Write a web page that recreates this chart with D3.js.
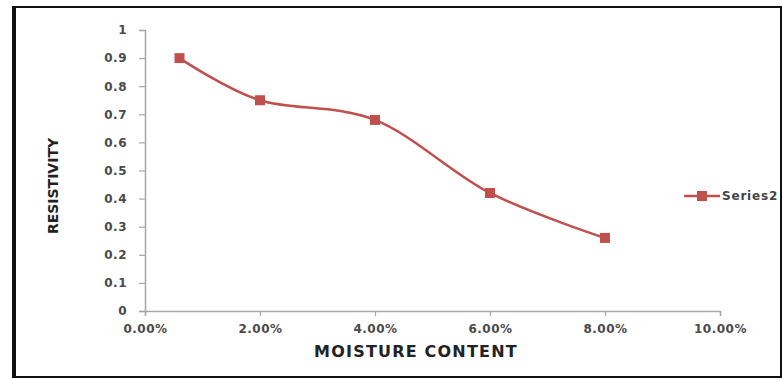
<!DOCTYPE html>
<html>
<head>
<meta charset="utf-8">
<script src="https://cdn.jsdelivr.net/npm/d3@7"></script>
<style>
  body { margin: 0; background: #fff; }
  svg { display: block; }
</style>
</head>
<body>
<svg width="783" height="380"></svg>
<script>
// datos
const moisture = [0.006, 0.02, 0.04, 0.06, 0.08];
const resistivity = [0.9, 0.75, 0.68, 0.42, 0.26];
const xTicks = [0, 0.02, 0.04, 0.06, 0.08, 0.10];
const yTicks = [0, 0.1, 0.2, 0.3, 0.4, 0.5, 0.6, 0.7, 0.8, 0.9, 1];
const seriesName = 'Series2';

const color = '#c0504d';
const axisColor = '#a6a6a6';
const tickFont = 'DejaVu Sans, sans-serif';

const svg = d3.select('svg');

// marco exterior
svg.append('rect')
    .attr('x', 13).attr('y', 7)
    .attr('width', 768).attr('height', 370)
    .attr('fill', '#fff')
    .attr('stroke', '#111')
    .attr('stroke-width', 2);
svg.append('line')
    .attr('x1', 14).attr('x2', 14)
    .attr('y1', 6).attr('y2', 378)
    .attr('stroke', '#111')
    .attr('stroke-width', 4);

// escalas
const x = d3.scaleLinear().domain([0, 0.10]).range([145, 720]);
const y = d3.scaleLinear().domain([0, 1]).range([311, 30]);

// eje Y
const yAxis = svg.append('g')
    .attr('transform', `translate(${x(0)},0)`)
    .call(d3.axisLeft(y).tickValues(yTicks).tickSize(6).tickPadding(12)
        .tickFormat(d => d === 0 || d === 1 ? d3.format('d')(d) : d3.format('.1f')(d)));

// eje X
const xAxis = svg.append('g')
    .attr('transform', `translate(0,${y(0)})`)
    .call(d3.axisBottom(x).tickValues(xTicks).tickSize(5).tickPadding(8)
        .tickFormat(d3.format('.2%')));

[yAxis, xAxis].forEach(g => {
    g.select('.domain').attr('stroke', axisColor).attr('stroke-width', 1.5);
    g.selectAll('.tick line').attr('stroke', axisColor).attr('stroke-width', 1.2);
    g.selectAll('.tick text')
        .attr('fill', '#4a4a4a')
        .attr('font-family', tickFont)
        .attr('font-weight', 'bold')
        .attr('font-size', 12)
        .attr('letter-spacing', 0.5);
});

// titulos de ejes
svg.append('text')
    .attr('x', 416).attr('y', 357)
    .attr('text-anchor', 'middle')
    .attr('font-family', tickFont)
    .attr('font-weight', 'bold')
    .attr('font-size', 16)
    .attr('letter-spacing', 1.2)
    .attr('fill', '#222')
    .text('MOISTURE CONTENT');

svg.append('text')
    .attr('transform', 'translate(58,186) rotate(-90)')
    .attr('text-anchor', 'middle')
    .attr('font-family', tickFont)
    .attr('font-weight', 'bold')
    .attr('font-size', 14)
    .attr('fill', '#222')
    .text('RESISTIVITY');

// serie
const points = moisture.map((m, i) => ({ m: m, r: resistivity[i] }));

const line = d3.line()
    .x(d => x(d.m))
    .y(d => y(d.r))
    .curve(d3.curveCatmullRom.alpha(0));

svg.append('path')
    .datum(points)
    .attr('d', line)
    .attr('fill', 'none')
    .attr('stroke', color)
    .attr('stroke-width', 2.5);

svg.append('g')
    .selectAll('rect')
    .data(points)
    .enter().append('rect')
    .attr('x', d => x(d.m) - 5)
    .attr('y', d => y(d.r) - 5)
    .attr('width', 10)
    .attr('height', 10)
    .attr('fill', color);

// leyenda
const legend = svg.append('g').attr('transform', 'translate(684,196)');
legend.append('line')
    .attr('x1', 0).attr('x2', 36)
    .attr('stroke', color).attr('stroke-width', 2.5);
legend.append('rect')
    .attr('x', 13).attr('y', -5)
    .attr('width', 10).attr('height', 10)
    .attr('fill', color);
legend.append('text')
    .attr('x', 38).attr('y', 4)
    .attr('font-family', tickFont)
    .attr('font-weight', 'bold')
    .attr('font-size', 12)
    .attr('letter-spacing', 0.8)
    .attr('fill', '#444')
    .text(seriesName);
</script>
</body>
</html>
